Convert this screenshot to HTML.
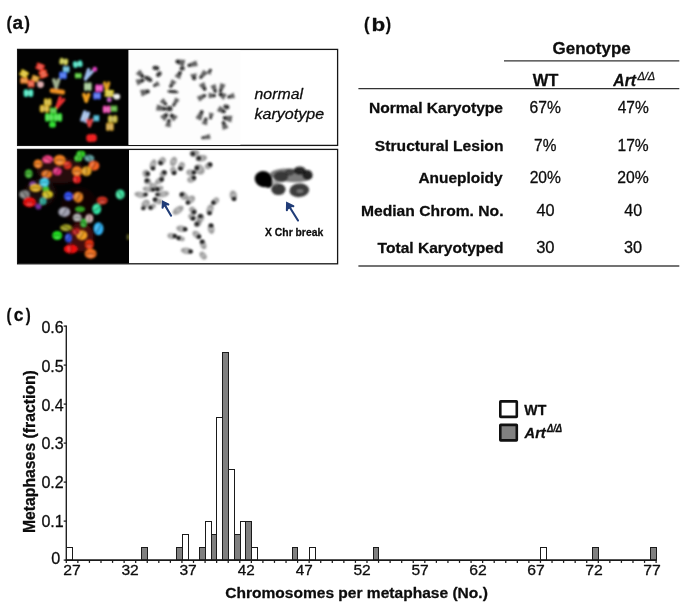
<!DOCTYPE html>
<html><head><meta charset="utf-8"><title>Figure</title>
<style>html,body{margin:0;padding:0;background:#fff;}body{width:685px;height:616px;overflow:hidden;font-family:"Liberation Sans",sans-serif;}svg{display:block;will-change:transform;}text{font-family:"Liberation Sans",sans-serif;fill:#0d0d0d;stroke:#0d0d0d;stroke-width:0.28px;stroke-linejoin:round;}</style>
</head><body>
<svg width="685" height="616" viewBox="0 0 685 616">
<defs>
<filter id="b1" x="-50%" y="-50%" width="200%" height="200%"><feGaussianBlur stdDeviation="0.9"/></filter>
<filter id="b2" x="-50%" y="-50%" width="200%" height="200%"><feGaussianBlur stdDeviation="1.5"/></filter>
<filter id="b3" x="-50%" y="-50%" width="200%" height="200%"><feGaussianBlur stdDeviation="0.9"/></filter>
<clipPath id="cp2"><rect x="18" y="149.8" width="111" height="113.6"/></clipPath>
</defs>
<rect x="0" y="0" width="685" height="616" fill="#fff"/>
<text transform="translate(6.40,28.60) scale(0.8558,1)" font-size="19.0" font-weight="bold">(</text>
<text transform="translate(12.54,28.60) scale(0.9975,1)" font-size="19.0" font-weight="bold">a</text>
<text transform="translate(24.50,28.60) scale(0.8558,1)" font-size="19.0" font-weight="bold">)</text>
<text transform="translate(363.98,29.70) scale(0.8744,1)" font-size="19.0" font-weight="bold">(</text>
<text transform="translate(371.52,30.60) scale(1.1817,1)" font-size="19.0" font-weight="bold">b</text>
<text transform="translate(385.70,29.70) scale(0.8372,1)" font-size="19.0" font-weight="bold">)</text>
<text transform="translate(6.47,320.50) scale(0.7814,1)" font-size="19.0" font-weight="bold">(</text>
<text transform="translate(13.76,321.40) scale(0.9189,1)" font-size="19.0" font-weight="bold">c</text>
<text transform="translate(25.80,320.50) scale(0.7814,1)" font-size="19.0" font-weight="bold">)</text>
<g id="pa">
<rect x="17.6" y="49.4" width="320.0" height="96" fill="#fff" stroke="#151515" stroke-width="1.3"/>
<rect x="17.6" y="149.4" width="320.0" height="114.4" fill="#fff" stroke="#151515" stroke-width="1.3"/>
<rect x="128.4" y="50" width="112" height="95" fill="#fdfdfd"/>
<rect x="18" y="49.8" width="110.4" height="95.2" fill="#020202"/>
<rect x="18" y="149.8" width="111" height="113.6" fill="#020202"/>
<g filter="url(#b1)"><rect x="20.61" y="70.62" width="8.67" height="3.37" rx="1.52" fill="#e8c820" transform="rotate(30 24.95 72.31)"/><rect x="18.92" y="73.54" width="8.67" height="3.37" rx="1.52" fill="#e8c820" transform="rotate(30 23.26 75.23)"/><rect x="22.66" y="78.59" width="6.74" height="3.85" rx="1.73" fill="#f08020" transform="rotate(90 26.03 80.51)"/><rect x="18.80" y="78.59" width="6.74" height="3.85" rx="1.73" fill="#f08020" transform="rotate(90 22.18 80.51)"/><rect x="36.40" y="63.59" width="8.67" height="3.37" rx="1.52" fill="#f03020" transform="rotate(20 40.74 65.28)"/><rect x="35.25" y="66.76" width="8.67" height="3.37" rx="1.52" fill="#f03020" transform="rotate(20 39.58 68.45)"/><rect x="38.38" y="70.35" width="8.67" height="3.85" rx="1.73" fill="#f04020" transform="rotate(-20 42.71 72.28)"/><rect x="39.70" y="73.97" width="8.67" height="3.85" rx="1.73" fill="#f04020" transform="rotate(-20 44.03 75.90)"/><rect x="31.98" y="75.78" width="7.71" height="2.89" rx="1.30" fill="#e8a020" transform="rotate(20 35.84 77.23)"/><rect x="31.00" y="78.50" width="7.71" height="2.89" rx="1.30" fill="#e8a020" transform="rotate(20 34.85 79.94)"/><rect x="29.00" y="82.04" width="7.71" height="3.37" rx="1.52" fill="#f05030" transform="rotate(90 32.85 83.72)"/><rect x="25.63" y="82.04" width="7.71" height="3.37" rx="1.52" fill="#f05030" transform="rotate(90 29.48 83.72)"/><rect x="37.11" y="81.15" width="6.74" height="6.74" rx="3.04" fill="#e0b0b0" transform="rotate(0 40.48 84.53)"/><rect x="26.99" y="90.63" width="7.71" height="4.82" rx="2.17" fill="#40e8c0" transform="rotate(90 30.85 93.04)"/><rect x="22.18" y="90.63" width="7.71" height="4.82" rx="2.17" fill="#40e8c0" transform="rotate(90 26.03 93.04)"/><rect x="62.53" y="59.77" width="6.74" height="4.34" rx="1.95" fill="#c8c840" transform="rotate(100 65.90 61.94)"/><rect x="58.26" y="59.02" width="6.74" height="4.34" rx="1.95" fill="#c8c840" transform="rotate(100 61.63 61.19)"/><rect x="76.74" y="61.30" width="6.74" height="4.82" rx="2.17" fill="#40e0c0" transform="rotate(80 80.11 63.71)"/><rect x="72.00" y="62.14" width="6.74" height="4.82" rx="2.17" fill="#40e0c0" transform="rotate(80 75.37 64.55)"/><rect x="64.49" y="67.58" width="6.74" height="3.37" rx="1.52" fill="#60c0e0" transform="rotate(90 67.86 69.27)"/><rect x="61.12" y="67.58" width="6.74" height="3.37" rx="1.52" fill="#60c0e0" transform="rotate(90 64.49 69.27)"/><rect x="61.04" y="73.45" width="7.71" height="3.85" rx="1.73" fill="#3060f0" transform="rotate(90 64.89 75.37)"/><rect x="57.18" y="73.45" width="7.71" height="3.85" rx="1.73" fill="#3060f0" transform="rotate(90 61.04 75.37)"/><rect x="77.02" y="74.01" width="5.78" height="3.37" rx="1.52" fill="#50d030" transform="rotate(90 79.91 75.69)"/><rect x="73.64" y="74.01" width="5.78" height="3.37" rx="1.52" fill="#50d030" transform="rotate(90 76.54 75.69)"/><line x1="56.22" y1="87.19" x2="58.56" y2="80.06" stroke="#a0b090" stroke-width="3.64" stroke-linecap="round"/><line x1="56.22" y1="87.19" x2="53.88" y2="80.06" stroke="#a0b090" stroke-width="3.64" stroke-linecap="round"/><rect x="49.64" y="89.02" width="15.42" height="4.82" rx="2.17" fill="#f09020" transform="rotate(8 57.34 91.43)"/><line x1="57.07" y1="107.08" x2="63.72" y2="99.72" stroke="#f03030" stroke-width="3.24" stroke-linecap="round"/><line x1="57.07" y1="107.08" x2="60.12" y2="97.64" stroke="#f03030" stroke-width="3.24" stroke-linecap="round"/><rect x="45.78" y="100.26" width="7.71" height="3.85" rx="1.73" fill="#d8b820" transform="rotate(90 49.64 102.19)"/><rect x="41.93" y="100.26" width="7.71" height="3.85" rx="1.73" fill="#d8b820" transform="rotate(90 45.78 102.19)"/><rect x="43.05" y="106.21" width="7.71" height="4.82" rx="2.17" fill="#d8b020" transform="rotate(90 46.91 108.62)"/><rect x="38.23" y="106.21" width="7.71" height="4.82" rx="2.17" fill="#d8b020" transform="rotate(90 42.09 108.62)"/><rect x="51.64" y="109.02" width="6.74" height="3.37" rx="1.52" fill="#40d030" transform="rotate(90 55.02 110.70)"/><rect x="48.27" y="109.02" width="6.74" height="3.37" rx="1.52" fill="#40d030" transform="rotate(90 51.64 110.70)"/><rect x="47.15" y="115.28" width="8.67" height="4.34" rx="1.95" fill="#30e030" transform="rotate(90 51.48 117.45)"/><rect x="42.81" y="115.28" width="8.67" height="4.34" rx="1.95" fill="#30e030" transform="rotate(90 47.15 117.45)"/><rect x="55.66" y="115.28" width="8.67" height="4.34" rx="1.95" fill="#30e030" transform="rotate(90 59.99 117.45)"/><rect x="51.32" y="115.28" width="8.67" height="4.34" rx="1.95" fill="#30e030" transform="rotate(90 55.66 117.45)"/><rect x="49.15" y="121.78" width="6.74" height="5.78" rx="2.60" fill="#30e030" transform="rotate(0 52.53 124.67)"/><line x1="85.50" y1="78.98" x2="92.15" y2="71.62" stroke="#a0c0f0" stroke-width="3.24" stroke-linecap="round"/><line x1="85.50" y1="78.98" x2="88.54" y2="69.54" stroke="#a0c0f0" stroke-width="3.24" stroke-linecap="round"/><rect x="92.35" y="66.86" width="4.82" height="4.82" rx="2.17" fill="#e040c0" transform="rotate(0 94.76 69.27)"/><rect x="85.45" y="84.69" width="8.67" height="3.85" rx="1.73" fill="#a0c890" transform="rotate(90 89.78 86.61)"/><rect x="81.59" y="84.69" width="8.67" height="3.85" rx="1.73" fill="#a0c890" transform="rotate(90 85.93 86.61)"/><rect x="97.17" y="86.29" width="7.71" height="3.85" rx="1.73" fill="#f040c0" transform="rotate(90 101.03 88.22)"/><rect x="93.32" y="86.29" width="7.71" height="3.85" rx="1.73" fill="#f040c0" transform="rotate(90 97.17 88.22)"/><line x1="106.65" y1="90.08" x2="108.73" y2="82.95" stroke="#e0a020" stroke-width="3.24" stroke-linecap="round"/><line x1="106.65" y1="90.08" x2="104.56" y2="82.95" stroke="#e0a020" stroke-width="3.24" stroke-linecap="round"/><rect x="104.40" y="89.99" width="9.64" height="3.37" rx="1.52" fill="#e0d030" transform="rotate(0 109.22 91.67)"/><rect x="104.40" y="93.36" width="9.64" height="3.37" rx="1.52" fill="#e0d030" transform="rotate(0 109.22 95.05)"/><rect x="113.39" y="93.68" width="6.74" height="5.78" rx="2.60" fill="#f0f0f0" transform="rotate(0 116.76 96.57)"/><rect x="95.08" y="93.84" width="7.71" height="3.85" rx="1.73" fill="#4060f0" transform="rotate(90 98.94 95.77)"/><rect x="91.23" y="93.84" width="7.71" height="3.85" rx="1.73" fill="#4060f0" transform="rotate(90 95.08 95.77)"/><line x1="86.25" y1="100.98" x2="88.59" y2="94.56" stroke="#f0a020" stroke-width="3.64" stroke-linecap="round"/><line x1="86.25" y1="100.98" x2="83.91" y2="94.56" stroke="#f0a020" stroke-width="3.64" stroke-linecap="round"/><rect x="106.81" y="97.37" width="4.82" height="4.82" rx="2.17" fill="#c060c0" transform="rotate(0 109.22 99.78)"/><rect x="104.72" y="107.49" width="7.71" height="3.85" rx="1.73" fill="#f040b0" transform="rotate(90 108.57 109.42)"/><rect x="100.86" y="107.49" width="7.71" height="3.85" rx="1.73" fill="#f040b0" transform="rotate(90 104.72 109.42)"/><rect x="112.35" y="106.93" width="6.74" height="3.37" rx="1.52" fill="#50b030" transform="rotate(90 115.72 108.62)"/><rect x="108.97" y="106.93" width="6.74" height="3.37" rx="1.52" fill="#50b030" transform="rotate(90 112.35 108.62)"/><rect x="80.87" y="115.44" width="11.95" height="3.66" rx="1.65" fill="#a0c0f0" transform="rotate(110 86.85 117.27)"/><rect x="77.43" y="114.19" width="11.95" height="3.66" rx="1.65" fill="#a0c0f0" transform="rotate(110 83.41 116.02)"/><rect x="94.44" y="116.81" width="6.74" height="2.89" rx="1.30" fill="#40c0e0" transform="rotate(90 97.81 118.25)"/><rect x="91.55" y="116.81" width="6.74" height="2.89" rx="1.30" fill="#40c0e0" transform="rotate(90 94.92 118.25)"/><line x1="89.46" y1="125.84" x2="91.54" y2="120.14" stroke="#e04040" stroke-width="3.24" stroke-linecap="round"/><line x1="89.46" y1="125.84" x2="87.38" y2="120.14" stroke="#e04040" stroke-width="3.24" stroke-linecap="round"/><rect x="111.30" y="116.65" width="7.71" height="4.82" rx="2.17" fill="#c0b030" transform="rotate(90 115.16 119.05)"/><rect x="106.49" y="116.65" width="7.71" height="4.82" rx="2.17" fill="#c0b030" transform="rotate(90 110.34 119.05)"/><rect x="107.45" y="124.84" width="8.67" height="3.85" rx="1.73" fill="#d0a030" transform="rotate(90 111.79 126.76)"/><rect x="103.59" y="124.84" width="8.67" height="3.85" rx="1.73" fill="#d0a030" transform="rotate(90 107.93 126.76)"/><rect x="86.25" y="134.15" width="10.60" height="7.71" rx="3.47" fill="#f02020" transform="rotate(-5 91.55 138.00)"/><rect x="21.50" y="70.90" width="5.20" height="5.73" rx="2.58" fill="#ffffff" transform="rotate(30 24.10 73.77)" opacity="0.24"/><rect x="22.08" y="77.24" width="4.05" height="6.55" rx="2.95" fill="#ffffff" transform="rotate(90 24.10 80.51)" opacity="0.24"/><rect x="37.56" y="64.00" width="5.20" height="5.73" rx="2.58" fill="#ffffff" transform="rotate(20 40.16 66.86)" opacity="0.24"/><rect x="40.77" y="70.81" width="5.20" height="6.55" rx="2.95" fill="#ffffff" transform="rotate(-20 43.37 74.09)" opacity="0.24"/><rect x="33.03" y="76.13" width="4.63" height="4.91" rx="2.21" fill="#ffffff" transform="rotate(20 35.34 78.59)" opacity="0.24"/><rect x="28.86" y="80.86" width="4.63" height="5.73" rx="2.58" fill="#ffffff" transform="rotate(90 31.17 83.72)" opacity="0.24"/><rect x="26.13" y="88.94" width="4.63" height="8.19" rx="3.69" fill="#ffffff" transform="rotate(90 28.44 93.04)" opacity="0.24"/><rect x="61.74" y="57.88" width="4.05" height="7.37" rx="3.32" fill="#ffffff" transform="rotate(100 63.77 61.56)" opacity="0.24"/><rect x="75.72" y="60.04" width="4.05" height="8.19" rx="3.69" fill="#ffffff" transform="rotate(80 77.74 64.13)" opacity="0.24"/><rect x="64.15" y="66.40" width="4.05" height="5.73" rx="2.58" fill="#ffffff" transform="rotate(90 66.18 69.27)" opacity="0.24"/><rect x="60.65" y="72.10" width="4.63" height="6.55" rx="2.95" fill="#ffffff" transform="rotate(90 62.97 75.37)" opacity="0.24"/><rect x="76.49" y="72.83" width="3.47" height="5.73" rx="2.58" fill="#ffffff" transform="rotate(90 78.22 75.69)" opacity="0.24"/><rect x="45.40" y="98.92" width="4.63" height="6.55" rx="2.95" fill="#ffffff" transform="rotate(90 47.71 102.19)" opacity="0.24"/><rect x="42.19" y="104.52" width="4.63" height="8.19" rx="3.69" fill="#ffffff" transform="rotate(90 44.50 108.62)" opacity="0.24"/><rect x="51.31" y="107.84" width="4.05" height="5.73" rx="2.58" fill="#ffffff" transform="rotate(90 53.33 110.70)" opacity="0.24"/><rect x="46.71" y="113.76" width="5.20" height="7.37" rx="3.32" fill="#ffffff" transform="rotate(90 49.32 117.45)" opacity="0.24"/><rect x="55.22" y="113.76" width="5.20" height="7.37" rx="3.32" fill="#ffffff" transform="rotate(90 57.83 117.45)" opacity="0.24"/><rect x="85.26" y="83.34" width="5.20" height="6.55" rx="2.95" fill="#ffffff" transform="rotate(90 87.86 86.61)" opacity="0.24"/><rect x="96.79" y="84.94" width="4.63" height="6.55" rx="2.95" fill="#ffffff" transform="rotate(90 99.10 88.22)" opacity="0.24"/><rect x="106.33" y="90.49" width="5.78" height="5.73" rx="2.58" fill="#ffffff" transform="rotate(0 109.22 93.36)" opacity="0.24"/><rect x="94.70" y="92.49" width="4.63" height="6.55" rx="2.95" fill="#ffffff" transform="rotate(90 97.01 95.77)" opacity="0.24"/><rect x="104.33" y="106.14" width="4.63" height="6.55" rx="2.95" fill="#ffffff" transform="rotate(90 106.65 109.42)" opacity="0.24"/><rect x="112.01" y="105.75" width="4.05" height="5.73" rx="2.58" fill="#ffffff" transform="rotate(90 114.03 108.62)" opacity="0.24"/><rect x="81.54" y="113.53" width="7.17" height="6.22" rx="2.80" fill="#ffffff" transform="rotate(110 85.13 116.65)" opacity="0.24"/><rect x="94.34" y="115.79" width="4.05" height="4.91" rx="2.21" fill="#ffffff" transform="rotate(90 96.37 118.25)" opacity="0.24"/><rect x="110.44" y="114.96" width="4.63" height="8.19" rx="3.69" fill="#ffffff" transform="rotate(90 112.75 119.05)" opacity="0.24"/><rect x="107.26" y="123.49" width="5.20" height="6.55" rx="2.95" fill="#ffffff" transform="rotate(90 109.86 126.76)" opacity="0.24"/></g><g clip-path="url(#cp2)"><g filter="url(#b2)"><ellipse cx="80.9" cy="237.0" rx="13.0" ry="15.0" fill="#5a0a0a" opacity="0.75"/><ellipse cx="60.6" cy="170.4" rx="24.0" ry="13.0" fill="#451010" opacity="0.55"/><ellipse cx="40.2" cy="192.6" rx="16.0" ry="14.0" fill="#351010" opacity="0.45"/><ellipse cx="79.1" cy="205.5" rx="18.0" ry="18.0" fill="#2a0808" opacity="0.3"/></g><g filter="url(#b1)"><ellipse cx="80.9" cy="154.1" rx="4.5" ry="3.5" fill="#30d020"/><ellipse cx="78.2" cy="158.3" rx="4.0" ry="3.5" fill="#40d030"/><ellipse cx="89.3" cy="158.3" rx="5.0" ry="3.5" fill="#60a0a0"/><ellipse cx="47.6" cy="159.3" rx="5.5" ry="4.0" fill="#f04080"/><ellipse cx="59.7" cy="160.2" rx="6.0" ry="5.5" fill="#f08020"/><ellipse cx="38.0" cy="163.9" rx="4.5" ry="4.5" fill="#f08020"/><ellipse cx="67.6" cy="165.2" rx="4.0" ry="4.0" fill="#e03020"/><ellipse cx="93.9" cy="165.7" rx="5.5" ry="5.0" fill="#f06020"/><ellipse cx="76.9" cy="171.3" rx="5.0" ry="5.0" fill="#f08020"/><ellipse cx="86.5" cy="171.3" rx="5.0" ry="5.0" fill="#e0a020"/><ellipse cx="57.2" cy="171.3" rx="4.5" ry="4.0" fill="#e03080"/><ellipse cx="28.7" cy="173.7" rx="4.0" ry="4.5" fill="#40b030"/><ellipse cx="46.7" cy="174.1" rx="5.5" ry="4.0" fill="#e07020"/><ellipse cx="76.9" cy="179.6" rx="4.0" ry="4.0" fill="#f02020"/><ellipse cx="44.3" cy="182.4" rx="5.0" ry="4.5" fill="#40d0f0"/><ellipse cx="32.8" cy="184.2" rx="3.5" ry="3.0" fill="#8040a0"/><ellipse cx="35.6" cy="187.9" rx="6.0" ry="4.0" fill="#e0b020"/><ellipse cx="45.8" cy="188.9" rx="3.5" ry="3.0" fill="#40c030"/><ellipse cx="24.5" cy="194.4" rx="5.5" ry="4.5" fill="#808080"/><ellipse cx="47.6" cy="194.4" rx="5.5" ry="4.0" fill="#d0c020"/><ellipse cx="29.5" cy="202.2" rx="6.5" ry="5.0" fill="#f01010"/><ellipse cx="43.0" cy="200.9" rx="3.5" ry="4.0" fill="#30b0a0"/><ellipse cx="38.4" cy="206.5" rx="3.0" ry="3.0" fill="#7030a0"/><ellipse cx="68.4" cy="196.3" rx="4.5" ry="4.5" fill="#3050f0"/><ellipse cx="78.2" cy="197.2" rx="5.0" ry="5.5" fill="#e08020"/><ellipse cx="120.2" cy="194.4" rx="4.5" ry="5.0" fill="#40e0a0"/><ellipse cx="102.2" cy="200.4" rx="5.5" ry="4.0" fill="#d03020"/><ellipse cx="96.7" cy="208.9" rx="4.5" ry="5.5" fill="#30e0a0"/><ellipse cx="80.0" cy="209.2" rx="5.0" ry="3.0" fill="#30a020"/><ellipse cx="64.3" cy="212.0" rx="6.0" ry="5.0" fill="#a0a0b0"/><ellipse cx="77.2" cy="217.6" rx="4.5" ry="4.0" fill="#b0b0b0"/><ellipse cx="89.3" cy="218.5" rx="4.0" ry="4.5" fill="#d0b0b0"/><ellipse cx="83.7" cy="223.1" rx="3.5" ry="4.5" fill="#30b030"/><ellipse cx="66.1" cy="227.7" rx="6.0" ry="3.5" fill="#a0a020"/><ellipse cx="98.5" cy="228.7" rx="5.0" ry="6.5" fill="#30b0f0"/><ellipse cx="57.2" cy="235.5" rx="5.0" ry="4.5" fill="#20e020"/><ellipse cx="68.4" cy="237.9" rx="3.5" ry="4.5" fill="#3050e0"/><ellipse cx="81.9" cy="235.2" rx="5.5" ry="5.0" fill="#f0a020"/><ellipse cx="76.3" cy="231.5" rx="4.0" ry="3.5" fill="#c02020"/><ellipse cx="89.3" cy="244.4" rx="4.5" ry="5.0" fill="#e03010"/><ellipse cx="70.8" cy="249.0" rx="7.0" ry="4.5" fill="#f01010"/><ellipse cx="90.6" cy="253.7" rx="6.0" ry="5.0" fill="#f07020"/><ellipse cx="128.1" cy="237.0" rx="1.5" ry="3.0" fill="#606020"/><line x1="80.9" y1="150.3" x2="80.9" y2="157.8" stroke="#000" stroke-width="1.1" opacity="0.42"/><ellipse cx="79.5" cy="154.1" rx="2.1" ry="0.8" fill="#fff" transform="rotate(90 79.5 154.1)" opacity="0.22"/><line x1="78.2" y1="155.0" x2="78.2" y2="161.7" stroke="#000" stroke-width="1.1" opacity="0.42"/><ellipse cx="76.7" cy="158.3" rx="1.8" ry="0.8" fill="#fff" transform="rotate(90 76.7 158.3)" opacity="0.22"/><line x1="87.2" y1="154.7" x2="91.4" y2="161.9" stroke="#000" stroke-width="1.1" opacity="0.42"/><ellipse cx="88.0" cy="159.0" rx="2.3" ry="0.8" fill="#fff" transform="rotate(60 88.0 159.0)" opacity="0.22"/><line x1="43.7" y1="157.0" x2="51.6" y2="161.5" stroke="#000" stroke-width="1.1" opacity="0.42"/><ellipse cx="46.8" cy="160.7" rx="2.5" ry="1.0" fill="#fff" transform="rotate(30 46.8 160.7)" opacity="0.22"/><line x1="54.7" y1="160.2" x2="64.6" y2="160.2" stroke="#000" stroke-width="1.1" opacity="0.42"/><ellipse cx="59.7" cy="162.4" rx="2.7" ry="1.3" fill="#fff" opacity="0.22"/><line x1="34.2" y1="163.9" x2="41.7" y2="163.9" stroke="#000" stroke-width="1.1" opacity="0.42"/><ellipse cx="38.0" cy="165.7" rx="2.1" ry="1.1" fill="#fff" opacity="0.22"/><line x1="70.5" y1="163.5" x2="64.7" y2="166.8" stroke="#000" stroke-width="1.1" opacity="0.42"/><ellipse cx="66.8" cy="163.8" rx="1.8" ry="1.0" fill="#fff" transform="rotate(150 66.8 163.8)" opacity="0.22"/><line x1="96.2" y1="161.8" x2="91.6" y2="169.7" stroke="#000" stroke-width="1.1" opacity="0.42"/><ellipse cx="92.1" cy="164.7" rx="2.5" ry="1.2" fill="#fff" transform="rotate(120 92.1 164.7)" opacity="0.22"/><line x1="72.7" y1="171.3" x2="81.0" y2="171.3" stroke="#000" stroke-width="1.1" opacity="0.42"/><ellipse cx="76.9" cy="173.3" rx="2.3" ry="1.2" fill="#fff" opacity="0.22"/><line x1="86.5" y1="167.1" x2="86.5" y2="175.5" stroke="#000" stroke-width="1.1" opacity="0.42"/><ellipse cx="84.5" cy="171.3" rx="2.3" ry="1.2" fill="#fff" transform="rotate(90 84.5 171.3)" opacity="0.22"/><line x1="59.1" y1="168.0" x2="55.4" y2="174.5" stroke="#000" stroke-width="1.1" opacity="0.42"/><ellipse cx="55.8" cy="170.5" rx="2.1" ry="1.0" fill="#fff" transform="rotate(120 55.8 170.5)" opacity="0.22"/><line x1="25.0" y1="173.7" x2="32.5" y2="173.7" stroke="#000" stroke-width="1.1" opacity="0.42"/><ellipse cx="28.7" cy="175.3" rx="2.1" ry="1.0" fill="#fff" opacity="0.22"/><line x1="49.0" y1="170.1" x2="44.4" y2="178.0" stroke="#000" stroke-width="1.1" opacity="0.42"/><ellipse cx="45.3" cy="173.3" rx="2.5" ry="1.0" fill="#fff" transform="rotate(120 45.3 173.3)" opacity="0.22"/><line x1="76.9" y1="176.3" x2="76.9" y2="183.0" stroke="#000" stroke-width="1.1" opacity="0.42"/><ellipse cx="75.2" cy="179.6" rx="1.8" ry="1.0" fill="#fff" transform="rotate(90 75.2 179.6)" opacity="0.22"/><line x1="40.1" y1="182.4" x2="48.5" y2="182.4" stroke="#000" stroke-width="1.1" opacity="0.42"/><ellipse cx="44.3" cy="184.2" rx="2.3" ry="1.1" fill="#fff" opacity="0.22"/><line x1="30.6" y1="187.9" x2="40.6" y2="187.9" stroke="#000" stroke-width="1.1" opacity="0.42"/><ellipse cx="35.6" cy="189.6" rx="2.7" ry="1.0" fill="#fff" opacity="0.22"/><line x1="22.2" y1="190.5" x2="26.8" y2="198.4" stroke="#000" stroke-width="1.1" opacity="0.42"/><ellipse cx="22.9" cy="195.3" rx="2.5" ry="1.1" fill="#fff" transform="rotate(60 22.9 195.3)" opacity="0.22"/><line x1="45.3" y1="190.5" x2="49.9" y2="198.4" stroke="#000" stroke-width="1.1" opacity="0.42"/><ellipse cx="46.2" cy="195.2" rx="2.5" ry="1.0" fill="#fff" transform="rotate(60 46.2 195.2)" opacity="0.22"/><line x1="24.1" y1="202.2" x2="34.9" y2="202.2" stroke="#000" stroke-width="1.1" opacity="0.42"/><ellipse cx="29.5" cy="204.2" rx="3.0" ry="1.2" fill="#fff" opacity="0.22"/><line x1="43.0" y1="197.6" x2="43.0" y2="204.2" stroke="#000" stroke-width="1.1" opacity="0.42"/><ellipse cx="41.6" cy="200.9" rx="1.8" ry="0.8" fill="#fff" transform="rotate(90 41.6 200.9)" opacity="0.22"/><line x1="64.6" y1="196.3" x2="72.1" y2="196.3" stroke="#000" stroke-width="1.1" opacity="0.42"/><ellipse cx="68.4" cy="198.1" rx="2.1" ry="1.1" fill="#fff" opacity="0.22"/><line x1="80.5" y1="193.2" x2="75.9" y2="201.2" stroke="#000" stroke-width="1.1" opacity="0.42"/><ellipse cx="76.4" cy="196.2" rx="2.5" ry="1.2" fill="#fff" transform="rotate(120 76.4 196.2)" opacity="0.22"/><line x1="118.1" y1="190.8" x2="122.3" y2="198.0" stroke="#000" stroke-width="1.1" opacity="0.42"/><ellipse cx="118.6" cy="195.3" rx="2.3" ry="1.1" fill="#fff" transform="rotate(60 118.6 195.3)" opacity="0.22"/><line x1="97.6" y1="200.4" x2="106.8" y2="200.4" stroke="#000" stroke-width="1.1" opacity="0.42"/><ellipse cx="102.2" cy="202.0" rx="2.5" ry="1.0" fill="#fff" opacity="0.22"/><line x1="100.6" y1="206.6" x2="92.7" y2="211.2" stroke="#000" stroke-width="1.1" opacity="0.42"/><ellipse cx="95.8" cy="207.3" rx="2.5" ry="1.1" fill="#fff" transform="rotate(150 95.8 207.3)" opacity="0.22"/><line x1="66.8" y1="207.7" x2="61.8" y2="216.3" stroke="#000" stroke-width="1.1" opacity="0.42"/><ellipse cx="62.5" cy="211.0" rx="2.7" ry="1.2" fill="#fff" transform="rotate(120 62.5 211.0)" opacity="0.22"/><line x1="73.5" y1="217.6" x2="81.0" y2="217.6" stroke="#000" stroke-width="1.1" opacity="0.42"/><ellipse cx="77.2" cy="219.2" rx="2.1" ry="1.0" fill="#fff" opacity="0.22"/><line x1="89.3" y1="214.7" x2="89.3" y2="222.2" stroke="#000" stroke-width="1.1" opacity="0.42"/><ellipse cx="87.6" cy="218.5" rx="2.1" ry="1.0" fill="#fff" transform="rotate(90 87.6 218.5)" opacity="0.22"/><line x1="80.5" y1="221.2" x2="87.0" y2="225.0" stroke="#000" stroke-width="1.1" opacity="0.42"/><ellipse cx="83.0" cy="224.4" rx="2.1" ry="0.8" fill="#fff" transform="rotate(30 83.0 224.4)" opacity="0.22"/><line x1="61.8" y1="225.2" x2="70.5" y2="230.2" stroke="#000" stroke-width="1.1" opacity="0.42"/><ellipse cx="65.4" cy="229.0" rx="2.7" ry="0.8" fill="#fff" transform="rotate(30 65.4 229.0)" opacity="0.22"/><line x1="101.2" y1="224.0" x2="95.8" y2="233.4" stroke="#000" stroke-width="1.1" opacity="0.42"/><ellipse cx="96.8" cy="227.7" rx="3.0" ry="1.2" fill="#fff" transform="rotate(120 96.8 227.7)" opacity="0.22"/><line x1="53.1" y1="235.5" x2="61.4" y2="235.5" stroke="#000" stroke-width="1.1" opacity="0.42"/><ellipse cx="57.2" cy="237.4" rx="2.3" ry="1.1" fill="#fff" opacity="0.22"/><line x1="70.2" y1="234.7" x2="66.5" y2="241.2" stroke="#000" stroke-width="1.1" opacity="0.42"/><ellipse cx="67.1" cy="237.2" rx="2.1" ry="0.8" fill="#fff" transform="rotate(120 67.1 237.2)" opacity="0.22"/><line x1="84.2" y1="231.2" x2="79.6" y2="239.1" stroke="#000" stroke-width="1.1" opacity="0.42"/><ellipse cx="80.1" cy="234.1" rx="2.5" ry="1.2" fill="#fff" transform="rotate(120 80.1 234.1)" opacity="0.22"/><line x1="74.6" y1="228.6" x2="78.0" y2="234.3" stroke="#000" stroke-width="1.1" opacity="0.42"/><ellipse cx="75.1" cy="232.2" rx="1.8" ry="0.8" fill="#fff" transform="rotate(60 75.1 232.2)" opacity="0.22"/><line x1="85.1" y1="244.4" x2="93.4" y2="244.4" stroke="#000" stroke-width="1.1" opacity="0.42"/><ellipse cx="89.3" cy="246.2" rx="2.3" ry="1.1" fill="#fff" opacity="0.22"/><line x1="70.8" y1="243.2" x2="70.8" y2="254.9" stroke="#000" stroke-width="1.1" opacity="0.42"/><ellipse cx="68.9" cy="249.0" rx="3.2" ry="1.1" fill="#fff" transform="rotate(90 68.9 249.0)" opacity="0.22"/><line x1="85.6" y1="253.7" x2="95.6" y2="253.7" stroke="#000" stroke-width="1.1" opacity="0.42"/><ellipse cx="90.6" cy="255.7" rx="2.7" ry="1.2" fill="#fff" opacity="0.22"/></g></g><g filter="url(#b1)"><polygon points="141.2,77.4 135.7,73.8 140.1,69.4 143.8,74.9" fill="#3c3c3c" opacity="0.8"/><polygon points="143.3,82.1 137.7,85.5 135.5,79.7 142.1,78.7" fill="#3c3c3c" opacity="0.8"/><polygon points="155.1,86.8 160.0,85.2 157.5,81.0 153.7,84.3" fill="#3c3c3c" opacity="0.8"/><polygon points="148.5,93.2 141.8,96.5 140.1,90.0 147.4,89.5" fill="#3c3c3c" opacity="0.8"/><polygon points="177.0,63.6 183.5,66.9 185.3,60.0 178.0,59.6" fill="#3c3c3c" opacity="0.8"/><polygon points="189.4,67.0 197.8,65.9 196.3,60.6 188.5,63.8" fill="#3c3c3c" opacity="0.8"/><polygon points="181.6,73.8 179.9,79.3 174.5,76.2 178.4,72.0" fill="#3c3c3c" opacity="0.8"/><polygon points="192.3,78.8 190.1,74.5 196.7,73.3 196.1,78.1" fill="#3c3c3c" opacity="0.8"/><polygon points="202.1,78.3 207.8,73.3 203.5,69.8 199.6,76.2" fill="#3c3c3c" opacity="0.8"/><polygon points="211.6,70.9 210.4,75.0 206.2,72.6 209.1,69.5" fill="#3c3c3c" opacity="0.8"/><polygon points="172.2,87.1 176.5,82.0 171.7,79.2 169.4,85.5" fill="#3c3c3c" opacity="0.8"/><polygon points="203.2,90.0 198.8,85.1 204.2,82.0 206.3,88.2" fill="#3c3c3c" opacity="0.8"/><polygon points="213.8,91.8 210.4,86.0 215.6,84.1 216.8,90.7" fill="#3c3c3c" opacity="0.8"/><polygon points="222.0,91.5 225.6,84.8 220.4,82.9 218.9,90.4" fill="#3c3c3c" opacity="0.8"/><polygon points="214.4,97.2 208.6,98.3 208.6,92.8 214.4,93.9" fill="#3c3c3c" opacity="0.8"/><polygon points="205.5,96.9 199.6,101.6 196.8,96.8 203.9,94.1" fill="#3c3c3c" opacity="0.8"/><polygon points="219.5,96.0 223.5,100.0 226.9,94.2 221.4,92.6" fill="#3c3c3c" opacity="0.8"/><polygon points="229.2,98.5 235.0,98.1 233.6,92.8 228.3,95.4" fill="#3c3c3c" opacity="0.8"/><polygon points="164.5,105.1 159.6,101.9 163.5,98.0 166.7,102.9" fill="#3c3c3c" opacity="0.8"/><polygon points="174.9,105.9 179.6,99.8 175.4,97.4 172.4,104.5" fill="#3c3c3c" opacity="0.8"/><polygon points="164.3,110.7 156.0,110.5 157.1,104.4 165.0,107.1" fill="#3c3c3c" opacity="0.8"/><polygon points="167.6,116.4 164.8,121.2 160.0,116.5 164.9,113.6" fill="#3c3c3c" opacity="0.8"/><polygon points="170.3,116.9 173.6,121.5 177.9,116.4 172.8,114.0" fill="#3c3c3c" opacity="0.8"/><polygon points="170.6,120.5 170.6,127.3 165.1,126.3 167.4,120.0" fill="#3c3c3c" opacity="0.8"/><polygon points="223.1,113.2 216.8,111.1 219.9,105.7 224.9,110.0" fill="#3c3c3c" opacity="0.8"/><polygon points="203.4,112.7 201.1,120.7 195.5,118.1 200.1,111.2" fill="#3c3c3c" opacity="0.8"/><polygon points="212.0,118.2 213.9,113.5 209.1,112.6 209.2,117.7" fill="#3c3c3c" opacity="0.8"/><polygon points="207.4,119.4 207.1,125.2 201.7,123.8 204.3,118.6" fill="#3c3c3c" opacity="0.8"/><polygon points="224.3,119.8 231.2,122.4 232.4,115.8 225.0,116.0" fill="#3c3c3c" opacity="0.8"/><polygon points="221.8,123.4 222.8,130.0 228.6,127.8 225.2,122.2" fill="#3c3c3c" opacity="0.8"/><polygon points="202.9,139.2 210.6,138.9 209.7,134.1 202.4,136.4" fill="#3c3c3c" opacity="0.8"/><circle cx="142.5" cy="76.2" r="1.8" fill="#0c0c0c" opacity="0.85"/><circle cx="142.7" cy="80.4" r="1.8" fill="#0c0c0c" opacity="0.85"/><ellipse cx="148.4" cy="78.9" rx="4.4" ry="2.2" fill="#151515" transform="rotate(30 148.4 78.9)" opacity="0.88"/><ellipse cx="155.9" cy="68.0" rx="3.5" ry="2.2" fill="#151515" transform="rotate(10 155.9 68.0)" opacity="0.88"/><ellipse cx="158.9" cy="74.2" rx="3.1" ry="2.2" fill="#151515" transform="rotate(-45 158.9 74.2)" opacity="0.88"/><circle cx="154.4" cy="85.6" r="1.4" fill="#0c0c0c" opacity="0.85"/><circle cx="147.9" cy="91.4" r="1.9" fill="#0c0c0c" opacity="0.85"/><circle cx="177.5" cy="61.6" r="2.1" fill="#0c0c0c" opacity="0.85"/><circle cx="189.0" cy="65.4" r="1.6" fill="#0c0c0c" opacity="0.85"/><ellipse cx="182.2" cy="68.4" rx="2.6" ry="2.2" fill="#151515" opacity="0.88"/><circle cx="180.0" cy="72.9" r="1.8" fill="#0c0c0c" opacity="0.85"/><circle cx="194.2" cy="78.4" r="1.9" fill="#0c0c0c" opacity="0.85"/><circle cx="200.8" cy="77.3" r="1.6" fill="#0c0c0c" opacity="0.85"/><circle cx="210.4" cy="70.2" r="1.4" fill="#0c0c0c" opacity="0.85"/><circle cx="170.8" cy="86.3" r="1.6" fill="#0c0c0c" opacity="0.85"/><ellipse cx="172.9" cy="91.7" rx="5.7" ry="1.6" fill="#151515" transform="rotate(5 172.9 91.7)" opacity="0.88"/><circle cx="204.7" cy="89.1" r="1.8" fill="#0c0c0c" opacity="0.85"/><circle cx="215.3" cy="91.2" r="1.6" fill="#0c0c0c" opacity="0.85"/><circle cx="220.5" cy="90.9" r="1.6" fill="#0c0c0c" opacity="0.85"/><circle cx="214.4" cy="95.6" r="1.6" fill="#0c0c0c" opacity="0.85"/><circle cx="204.7" cy="95.5" r="1.6" fill="#0c0c0c" opacity="0.85"/><circle cx="220.5" cy="94.3" r="1.9" fill="#0c0c0c" opacity="0.85"/><circle cx="228.8" cy="97.0" r="1.6" fill="#0c0c0c" opacity="0.85"/><circle cx="165.6" cy="104.0" r="1.6" fill="#0c0c0c" opacity="0.85"/><circle cx="173.7" cy="105.2" r="1.4" fill="#0c0c0c" opacity="0.85"/><circle cx="164.7" cy="108.9" r="1.8" fill="#0c0c0c" opacity="0.85"/><ellipse cx="169.4" cy="108.7" rx="3.1" ry="2.6" fill="#151515" opacity="0.88"/><circle cx="166.3" cy="115.0" r="1.9" fill="#0c0c0c" opacity="0.85"/><circle cx="171.6" cy="115.5" r="1.9" fill="#0c0c0c" opacity="0.85"/><circle cx="169.0" cy="120.3" r="1.6" fill="#0c0c0c" opacity="0.85"/><ellipse cx="226.4" cy="106.9" rx="3.1" ry="2.2" fill="#151515" transform="rotate(20 226.4 106.9)" opacity="0.88"/><circle cx="224.0" cy="111.6" r="1.8" fill="#0c0c0c" opacity="0.85"/><circle cx="201.8" cy="111.9" r="1.8" fill="#0c0c0c" opacity="0.85"/><circle cx="210.6" cy="118.0" r="1.4" fill="#0c0c0c" opacity="0.85"/><circle cx="205.9" cy="119.0" r="1.6" fill="#0c0c0c" opacity="0.85"/><circle cx="224.6" cy="117.9" r="1.9" fill="#0c0c0c" opacity="0.85"/><circle cx="223.5" cy="122.8" r="1.8" fill="#0c0c0c" opacity="0.85"/><circle cx="202.6" cy="137.8" r="1.4" fill="#0c0c0c" opacity="0.85"/></g><g filter="url(#b3)"><ellipse cx="153.1" cy="164.4" rx="5.3" ry="3.1" fill="#6a6a6a" transform="rotate(-70 153.1 164.4)" opacity="0.66"/><ellipse cx="161.9" cy="161.1" rx="4.4" ry="3.3" fill="#6a6a6a" transform="rotate(-50 161.9 161.1)" opacity="0.66"/><ellipse cx="173.5" cy="161.5" rx="4.9" ry="3.3" fill="#6a6a6a" transform="rotate(-70 173.5 161.5)" opacity="0.66"/><ellipse cx="181.5" cy="166.3" rx="4.4" ry="3.1" fill="#6a6a6a" transform="rotate(-70 181.5 166.3)" opacity="0.66"/><ellipse cx="173.5" cy="170.7" rx="3.9" ry="3.1" fill="#6a6a6a" transform="rotate(70 173.5 170.7)" opacity="0.66"/><ellipse cx="194.4" cy="153.3" rx="4.9" ry="3.6" fill="#6a6a6a" transform="rotate(-10 194.4 153.3)" opacity="0.66"/><ellipse cx="201.3" cy="158.3" rx="5.8" ry="3.3" fill="#6a6a6a" transform="rotate(-10 201.3 158.3)" opacity="0.66"/><ellipse cx="208.7" cy="165.7" rx="3.9" ry="3.1" fill="#6a6a6a" transform="rotate(-30 208.7 165.7)" opacity="0.66"/><ellipse cx="199.4" cy="169.4" rx="5.8" ry="4.6" fill="#6a6a6a" transform="rotate(45 199.4 169.4)" opacity="0.66"/><ellipse cx="190.7" cy="172.6" rx="4.4" ry="3.1" fill="#6a6a6a" transform="rotate(10 190.7 172.6)" opacity="0.66"/><ellipse cx="191.5" cy="179.3" rx="4.4" ry="3.1" fill="#6a6a6a" transform="rotate(-20 191.5 179.3)" opacity="0.66"/><ellipse cx="146.3" cy="173.7" rx="3.9" ry="3.6" fill="#6a6a6a" transform="rotate(60 146.3 173.7)" opacity="0.66"/><ellipse cx="163.3" cy="173.7" rx="3.9" ry="3.1" fill="#6a6a6a" transform="rotate(-50 163.3 173.7)" opacity="0.66"/><ellipse cx="159.6" cy="180.6" rx="5.3" ry="2.9" fill="#6a6a6a" transform="rotate(-35 159.6 180.6)" opacity="0.66"/><ellipse cx="147.6" cy="181.5" rx="3.4" ry="2.9" fill="#6a6a6a" opacity="0.66"/><ellipse cx="153.1" cy="186.1" rx="3.9" ry="2.9" fill="#6a6a6a" transform="rotate(30 153.1 186.1)" opacity="0.66"/><ellipse cx="147.6" cy="189.3" rx="4.9" ry="2.5" fill="#6a6a6a" transform="rotate(10 147.6 189.3)" opacity="0.66"/><ellipse cx="159.6" cy="188.5" rx="3.9" ry="2.5" fill="#6a6a6a" transform="rotate(-20 159.6 188.5)" opacity="0.66"/><ellipse cx="140.2" cy="194.8" rx="5.8" ry="2.9" fill="#6a6a6a" transform="rotate(10 140.2 194.8)" opacity="0.66"/><ellipse cx="163.3" cy="194.1" rx="5.8" ry="2.9" fill="#6a6a6a" transform="rotate(-10 163.3 194.1)" opacity="0.66"/><ellipse cx="157.8" cy="200.9" rx="4.9" ry="2.9" fill="#6a6a6a" transform="rotate(20 157.8 200.9)" opacity="0.66"/><ellipse cx="145.7" cy="203.7" rx="4.4" ry="3.6" fill="#6a6a6a" transform="rotate(-50 145.7 203.7)" opacity="0.66"/><ellipse cx="152.6" cy="206.5" rx="3.4" ry="2.5" fill="#6a6a6a" transform="rotate(-30 152.6 206.5)" opacity="0.66"/><ellipse cx="183.7" cy="195.9" rx="4.4" ry="3.6" fill="#6a6a6a" transform="rotate(40 183.7 195.9)" opacity="0.66"/><ellipse cx="190.7" cy="199.6" rx="4.9" ry="3.6" fill="#6a6a6a" transform="rotate(-40 190.7 199.6)" opacity="0.66"/><ellipse cx="178.1" cy="210.2" rx="6.3" ry="3.3" fill="#6a6a6a" transform="rotate(-35 178.1 210.2)" opacity="0.66"/><ellipse cx="233.3" cy="195.4" rx="4.9" ry="3.6" fill="#6a6a6a" transform="rotate(80 233.3 195.4)" opacity="0.66"/><ellipse cx="215.6" cy="200.9" rx="3.9" ry="2.9" fill="#6a6a6a" transform="rotate(-45 215.6 200.9)" opacity="0.66"/><ellipse cx="210.0" cy="209.3" rx="5.3" ry="3.3" fill="#6a6a6a" transform="rotate(-70 210.0 209.3)" opacity="0.66"/><ellipse cx="193.0" cy="210.7" rx="4.4" ry="3.1" fill="#6a6a6a" transform="rotate(50 193.0 210.7)" opacity="0.66"/><ellipse cx="192.0" cy="217.0" rx="3.9" ry="2.9" fill="#6a6a6a" transform="rotate(30 192.0 217.0)" opacity="0.66"/><ellipse cx="200.4" cy="218.1" rx="4.4" ry="3.6" fill="#6a6a6a" transform="rotate(-70 200.4 218.1)" opacity="0.66"/><ellipse cx="197.6" cy="223.7" rx="3.9" ry="3.1" fill="#6a6a6a" transform="rotate(-40 197.6 223.7)" opacity="0.66"/><ellipse cx="211.1" cy="228.7" rx="5.3" ry="3.3" fill="#6a6a6a" transform="rotate(80 211.1 228.7)" opacity="0.66"/><ellipse cx="181.5" cy="228.7" rx="5.3" ry="3.1" fill="#6a6a6a" transform="rotate(10 181.5 228.7)" opacity="0.66"/><ellipse cx="196.7" cy="234.8" rx="4.9" ry="3.3" fill="#6a6a6a" transform="rotate(40 196.7 234.8)" opacity="0.66"/><ellipse cx="171.7" cy="236.1" rx="4.4" ry="2.9" fill="#6a6a6a" transform="rotate(10 171.7 236.1)" opacity="0.66"/><ellipse cx="180.9" cy="238.5" rx="3.9" ry="2.5" fill="#6a6a6a" transform="rotate(20 180.9 238.5)" opacity="0.66"/><ellipse cx="203.1" cy="244.4" rx="4.9" ry="2.9" fill="#6a6a6a" transform="rotate(70 203.1 244.4)" opacity="0.66"/><ellipse cx="186.5" cy="250.9" rx="5.8" ry="3.1" fill="#6a6a6a" transform="rotate(10 186.5 250.9)" opacity="0.66"/><ellipse cx="203.1" cy="255.6" rx="4.4" ry="2.9" fill="#6a6a6a" transform="rotate(50 203.1 255.6)" opacity="0.66"/><ellipse cx="153.1" cy="164.4" rx="1.8" ry="1.9" fill="#fff" transform="rotate(-70 153.1 164.4)" opacity="0.28"/><ellipse cx="161.9" cy="161.1" rx="1.5" ry="2.1" fill="#fff" transform="rotate(-50 161.9 161.1)" opacity="0.28"/><ellipse cx="173.5" cy="161.5" rx="1.6" ry="2.1" fill="#fff" transform="rotate(-70 173.5 161.5)" opacity="0.28"/><ellipse cx="181.5" cy="166.3" rx="1.5" ry="1.9" fill="#fff" transform="rotate(-70 181.5 166.3)" opacity="0.28"/><ellipse cx="173.5" cy="170.7" rx="1.3" ry="1.9" fill="#fff" transform="rotate(70 173.5 170.7)" opacity="0.28"/><ellipse cx="194.4" cy="153.3" rx="1.6" ry="2.3" fill="#fff" transform="rotate(-10 194.4 153.3)" opacity="0.28"/><ellipse cx="201.3" cy="158.3" rx="1.9" ry="2.1" fill="#fff" transform="rotate(-10 201.3 158.3)" opacity="0.28"/><ellipse cx="208.7" cy="165.7" rx="1.3" ry="1.9" fill="#fff" transform="rotate(-30 208.7 165.7)" opacity="0.28"/><ellipse cx="199.4" cy="169.4" rx="1.9" ry="2.9" fill="#fff" transform="rotate(45 199.4 169.4)" opacity="0.28"/><ellipse cx="190.7" cy="172.6" rx="1.5" ry="1.9" fill="#fff" transform="rotate(10 190.7 172.6)" opacity="0.28"/><ellipse cx="191.5" cy="179.3" rx="1.5" ry="1.9" fill="#fff" transform="rotate(-20 191.5 179.3)" opacity="0.28"/><ellipse cx="146.3" cy="173.7" rx="1.3" ry="2.3" fill="#fff" transform="rotate(60 146.3 173.7)" opacity="0.28"/><ellipse cx="163.3" cy="173.7" rx="1.3" ry="1.9" fill="#fff" transform="rotate(-50 163.3 173.7)" opacity="0.28"/><ellipse cx="159.6" cy="180.6" rx="1.8" ry="1.8" fill="#fff" transform="rotate(-35 159.6 180.6)" opacity="0.28"/><ellipse cx="147.6" cy="181.5" rx="1.1" ry="1.8" fill="#fff" opacity="0.28"/><ellipse cx="153.1" cy="186.1" rx="1.3" ry="1.8" fill="#fff" transform="rotate(30 153.1 186.1)" opacity="0.28"/><ellipse cx="147.6" cy="189.3" rx="1.6" ry="1.6" fill="#fff" transform="rotate(10 147.6 189.3)" opacity="0.28"/><ellipse cx="159.6" cy="188.5" rx="1.3" ry="1.6" fill="#fff" transform="rotate(-20 159.6 188.5)" opacity="0.28"/><ellipse cx="140.2" cy="194.8" rx="1.9" ry="1.8" fill="#fff" transform="rotate(10 140.2 194.8)" opacity="0.28"/><ellipse cx="163.3" cy="194.1" rx="1.9" ry="1.8" fill="#fff" transform="rotate(-10 163.3 194.1)" opacity="0.28"/><ellipse cx="157.8" cy="200.9" rx="1.6" ry="1.8" fill="#fff" transform="rotate(20 157.8 200.9)" opacity="0.28"/><ellipse cx="145.7" cy="203.7" rx="1.5" ry="2.3" fill="#fff" transform="rotate(-50 145.7 203.7)" opacity="0.28"/><ellipse cx="152.6" cy="206.5" rx="1.1" ry="1.6" fill="#fff" transform="rotate(-30 152.6 206.5)" opacity="0.28"/><ellipse cx="183.7" cy="195.9" rx="1.5" ry="2.3" fill="#fff" transform="rotate(40 183.7 195.9)" opacity="0.28"/><ellipse cx="190.7" cy="199.6" rx="1.6" ry="2.3" fill="#fff" transform="rotate(-40 190.7 199.6)" opacity="0.28"/><ellipse cx="178.1" cy="210.2" rx="2.1" ry="2.1" fill="#fff" transform="rotate(-35 178.1 210.2)" opacity="0.28"/><ellipse cx="233.3" cy="195.4" rx="1.6" ry="2.3" fill="#fff" transform="rotate(80 233.3 195.4)" opacity="0.28"/><ellipse cx="215.6" cy="200.9" rx="1.3" ry="1.8" fill="#fff" transform="rotate(-45 215.6 200.9)" opacity="0.28"/><ellipse cx="210.0" cy="209.3" rx="1.8" ry="2.1" fill="#fff" transform="rotate(-70 210.0 209.3)" opacity="0.28"/><ellipse cx="193.0" cy="210.7" rx="1.5" ry="1.9" fill="#fff" transform="rotate(50 193.0 210.7)" opacity="0.28"/><ellipse cx="192.0" cy="217.0" rx="1.3" ry="1.8" fill="#fff" transform="rotate(30 192.0 217.0)" opacity="0.28"/><ellipse cx="200.4" cy="218.1" rx="1.5" ry="2.3" fill="#fff" transform="rotate(-70 200.4 218.1)" opacity="0.28"/><ellipse cx="197.6" cy="223.7" rx="1.3" ry="1.9" fill="#fff" transform="rotate(-40 197.6 223.7)" opacity="0.28"/><ellipse cx="211.1" cy="228.7" rx="1.8" ry="2.1" fill="#fff" transform="rotate(80 211.1 228.7)" opacity="0.28"/><ellipse cx="181.5" cy="228.7" rx="1.8" ry="1.9" fill="#fff" transform="rotate(10 181.5 228.7)" opacity="0.28"/><ellipse cx="196.7" cy="234.8" rx="1.6" ry="2.1" fill="#fff" transform="rotate(40 196.7 234.8)" opacity="0.28"/><ellipse cx="171.7" cy="236.1" rx="1.5" ry="1.8" fill="#fff" transform="rotate(10 171.7 236.1)" opacity="0.28"/><ellipse cx="180.9" cy="238.5" rx="1.3" ry="1.6" fill="#fff" transform="rotate(20 180.9 238.5)" opacity="0.28"/><ellipse cx="203.1" cy="244.4" rx="1.6" ry="1.8" fill="#fff" transform="rotate(70 203.1 244.4)" opacity="0.28"/><ellipse cx="186.5" cy="250.9" rx="1.9" ry="1.9" fill="#fff" transform="rotate(10 186.5 250.9)" opacity="0.28"/><ellipse cx="203.1" cy="255.6" rx="1.5" ry="1.8" fill="#fff" transform="rotate(50 203.1 255.6)" opacity="0.28"/></g><g filter="url(#b1)"><ellipse cx="153.1" cy="168.5" rx="2.2" ry="2.0" fill="#000" opacity="0.88"/><ellipse cx="160.6" cy="163.0" rx="2.2" ry="2.0" fill="#000" opacity="0.88"/><ellipse cx="180.4" cy="168.5" rx="2.2" ry="2.0" fill="#000" opacity="0.88"/><ellipse cx="174.1" cy="173.1" rx="2.2" ry="2.0" fill="#000" opacity="0.88"/><ellipse cx="193.0" cy="153.7" rx="2.2" ry="2.0" fill="#000" opacity="0.88"/><ellipse cx="198.9" cy="158.3" rx="2.2" ry="2.0" fill="#000" opacity="0.88"/><ellipse cx="210.0" cy="164.4" rx="2.2" ry="2.0" fill="#000" opacity="0.88"/><ellipse cx="197.0" cy="168.1" rx="2.2" ry="2.0" fill="#000" opacity="0.88"/><ellipse cx="193.9" cy="172.6" rx="2.2" ry="2.0" fill="#000" opacity="0.88"/><ellipse cx="193.9" cy="177.8" rx="2.2" ry="2.0" fill="#000" opacity="0.88"/><ellipse cx="147.6" cy="173.7" rx="2.2" ry="2.0" fill="#000" opacity="0.88"/><ellipse cx="164.3" cy="172.6" rx="2.2" ry="2.0" fill="#000" opacity="0.88"/><ellipse cx="161.5" cy="179.6" rx="2.2" ry="2.0" fill="#000" opacity="0.88"/><ellipse cx="147.0" cy="180.6" rx="2.2" ry="2.0" fill="#000" opacity="0.88"/><ellipse cx="153.1" cy="189.8" rx="2.2" ry="2.0" fill="#000" opacity="0.88"/><ellipse cx="157.4" cy="189.3" rx="2.2" ry="2.0" fill="#000" opacity="0.88"/><ellipse cx="145.7" cy="194.4" rx="2.2" ry="2.0" fill="#000" opacity="0.88"/><ellipse cx="157.4" cy="194.4" rx="2.2" ry="2.0" fill="#000" opacity="0.88"/><ellipse cx="155.0" cy="199.6" rx="2.2" ry="2.0" fill="#000" opacity="0.88"/><ellipse cx="143.3" cy="208.3" rx="2.2" ry="2.0" fill="#000" opacity="0.88"/><ellipse cx="150.4" cy="207.8" rx="2.2" ry="2.0" fill="#000" opacity="0.88"/><ellipse cx="181.9" cy="194.4" rx="2.2" ry="2.0" fill="#000" opacity="0.88"/><ellipse cx="187.8" cy="202.8" rx="2.2" ry="2.0" fill="#000" opacity="0.88"/><ellipse cx="234.1" cy="199.1" rx="2.2" ry="2.0" fill="#000" opacity="0.88"/><ellipse cx="213.3" cy="202.8" rx="2.2" ry="2.0" fill="#000" opacity="0.88"/><ellipse cx="209.6" cy="213.3" rx="2.2" ry="2.0" fill="#000" opacity="0.88"/><ellipse cx="193.9" cy="212.0" rx="2.2" ry="2.0" fill="#000" opacity="0.88"/><ellipse cx="193.0" cy="218.5" rx="2.2" ry="2.0" fill="#000" opacity="0.88"/><ellipse cx="200.4" cy="216.3" rx="2.2" ry="2.0" fill="#000" opacity="0.88"/><ellipse cx="197.0" cy="224.1" rx="2.2" ry="2.0" fill="#000" opacity="0.88"/><ellipse cx="211.1" cy="225.6" rx="2.2" ry="2.0" fill="#000" opacity="0.88"/><ellipse cx="185.2" cy="229.3" rx="2.2" ry="2.0" fill="#000" opacity="0.88"/><ellipse cx="198.9" cy="236.7" rx="2.2" ry="2.0" fill="#000" opacity="0.88"/><ellipse cx="174.8" cy="236.1" rx="2.2" ry="2.0" fill="#000" opacity="0.88"/><ellipse cx="178.5" cy="238.0" rx="2.2" ry="2.0" fill="#000" opacity="0.88"/><ellipse cx="202.2" cy="241.7" rx="2.2" ry="2.0" fill="#000" opacity="0.88"/><ellipse cx="190.7" cy="251.5" rx="2.2" ry="2.0" fill="#000" opacity="0.88"/></g><g stroke="#213d78" stroke-width="2.1" fill="none" stroke-linecap="round"><path d="M171.1 215.7 L163.4 202.6"/><path d="M162.6 207.8 L163 201.9 L168.3 204.5" fill="#213d78"/></g><g filter="url(#b1)"><ellipse cx="291.1" cy="175.3" rx="21.3" ry="6.8" fill="#5a5a5a" transform="rotate(3 291.1 175.3)" opacity="0.8"/><ellipse cx="280.9" cy="176.7" rx="7.2" ry="5.5" fill="#2e2e2e" opacity="0.85"/><ellipse cx="289.4" cy="172.3" rx="4.8" ry="3.4" fill="#2a2a2a" opacity="0.7"/><ellipse cx="299.7" cy="170.6" rx="6.1" ry="4.1" fill="#151515" opacity="0.9"/><ellipse cx="307.5" cy="175.0" rx="5.1" ry="5.1" fill="#151515" opacity="0.9"/><ellipse cx="278.4" cy="189.3" rx="7.2" ry="5.8" fill="#222" opacity="0.9"/><ellipse cx="299.3" cy="190.3" rx="9.9" ry="6.8" fill="#2a2a2a" transform="rotate(-5 299.3 190.3)" opacity="0.92"/><ellipse cx="300.0" cy="191.0" rx="3.1" ry="1.5" fill="#999" opacity="0.7"/><ellipse cx="274.1" cy="183.0" rx="4.3" ry="3.4" fill="#666" opacity="0.5"/></g><g filter="url(#b1)"><ellipse cx="263.5" cy="179.1" rx="8.9" ry="8.0" fill="#000" transform="rotate(20 263.5 179.1)"/><ellipse cx="267.3" cy="183.5" rx="5.1" ry="4.1" fill="#000" transform="rotate(30 267.3 183.5)"/></g><g stroke="#213d78" stroke-width="2.1" fill="none" stroke-linecap="round"><path d="M298 220.5 L288 204.5"/><path d="M286.9 210.2 L287.1 203.2 L293.3 206.2" fill="#213d78"/></g>
<text transform="translate(254.54,98.60) scale(1.0232,1)" font-size="15.5" font-style="italic">normal</text>
<text transform="translate(254.54,118.90) scale(1.0350,1)" font-size="15.5" font-style="italic">karyotype</text>
<text transform="translate(265.08,235.50) scale(0.9412,1)" font-size="11" font-weight="bold">X Chr break</text>
</g>
<g id="pb">
<text transform="translate(552.54,54.00) scale(1.0535,1)" font-size="16.1" font-weight="bold">Genotype</text>
<line x1="504" y1="60.9" x2="679.3" y2="60.9" stroke="#333" stroke-width="1.4"/>
<text transform="translate(532.70,86.00) scale(1.0343,1)" font-size="16" font-weight="bold">WT</text>
<text transform="translate(613.31,86.00) scale(0.9833,1)" font-size="16" font-weight="bold" font-style="italic">Art</text>
<text transform="translate(637.40,80.30) scale(1.0525,1)" font-size="10.5" font-style="italic">Δ/Δ</text>
<line x1="358.4" y1="88.6" x2="679.3" y2="88.6" stroke="#333" stroke-width="1.4"/>
<text transform="translate(368.89,113.00) scale(1.0053,1)" font-size="15.5" font-weight="bold">Normal Karyotype</text>
<text transform="translate(374.86,150.70) scale(1.0098,1)" font-size="15.5" font-weight="bold">Structural Lesion</text>
<text transform="translate(418.43,183.00) scale(0.9984,1)" font-size="15.5" font-weight="bold">Anueploidy</text>
<text transform="translate(360.99,216.00) scale(1.0101,1)" font-size="15.5" font-weight="bold">Median Chrom. No.</text>
<text transform="translate(377.61,253.10) scale(1.0044,1)" font-size="15.5" font-weight="bold">Total Karyotyped</text>
<text transform="translate(529.59,113.20) scale(0.9917,1)" font-size="15.8">67%</text>
<text transform="translate(617.63,113.20) scale(0.9841,1)" font-size="15.8">47%</text>
<text transform="translate(534.11,150.70) scale(0.9767,1)" font-size="15.8">7%</text>
<text transform="translate(617.53,150.70) scale(0.9874,1)" font-size="15.8">17%</text>
<text transform="translate(529.66,183.20) scale(0.9897,1)" font-size="15.8">20%</text>
<text transform="translate(617.25,183.20) scale(0.9963,1)" font-size="15.8">20%</text>
<text transform="translate(536.41,215.90) scale(1.0346,1)" font-size="15.8">40</text>
<text transform="translate(624.32,215.90) scale(1.0165,1)" font-size="15.8">40</text>
<text transform="translate(536.14,252.80) scale(1.0504,1)" font-size="15.8">30</text>
<text transform="translate(624.05,252.80) scale(1.0321,1)" font-size="15.8">30</text>
<line x1="358.4" y1="266" x2="679.3" y2="266" stroke="#444" stroke-width="1.4"/>
</g>
<g id="pc">
<rect x="66.5" y="547.5" width="6.0" height="12.60" fill="#fff" stroke="#1a1a1a" stroke-width="1"/>
<rect x="182.5" y="534.5" width="6.0" height="25.60" fill="#fff" stroke="#1a1a1a" stroke-width="1"/>
<rect x="205.5" y="521.5" width="6.0" height="38.60" fill="#fff" stroke="#1a1a1a" stroke-width="1"/>
<rect x="216.5" y="417.5" width="6.0" height="142.60" fill="#fff" stroke="#1a1a1a" stroke-width="1"/>
<rect x="228.5" y="469.5" width="6.0" height="90.60" fill="#fff" stroke="#1a1a1a" stroke-width="1"/>
<rect x="240.5" y="521.5" width="5.0" height="38.60" fill="#fff" stroke="#1a1a1a" stroke-width="1"/>
<rect x="251.5" y="547.5" width="6.0" height="12.60" fill="#fff" stroke="#1a1a1a" stroke-width="1"/>
<rect x="309.5" y="547.5" width="6.0" height="12.60" fill="#fff" stroke="#1a1a1a" stroke-width="1"/>
<rect x="540.5" y="547.5" width="6.0" height="12.60" fill="#fff" stroke="#1a1a1a" stroke-width="1"/>
<rect x="141.5" y="547.5" width="6.0" height="12.60" fill="#808080" stroke="#1a1a1a" stroke-width="1"/>
<rect x="176.5" y="547.5" width="6.0" height="12.60" fill="#808080" stroke="#1a1a1a" stroke-width="1"/>
<rect x="199.5" y="547.5" width="6.0" height="12.60" fill="#808080" stroke="#1a1a1a" stroke-width="1"/>
<rect x="211.5" y="534.5" width="5.0" height="25.60" fill="#808080" stroke="#1a1a1a" stroke-width="1"/>
<rect x="222.5" y="352.5" width="6.0" height="207.60" fill="#808080" stroke="#1a1a1a" stroke-width="1"/>
<rect x="234.5" y="534.5" width="6.0" height="25.60" fill="#808080" stroke="#1a1a1a" stroke-width="1"/>
<rect x="245.5" y="521.5" width="6.0" height="38.60" fill="#808080" stroke="#1a1a1a" stroke-width="1"/>
<rect x="292.5" y="547.5" width="5.0" height="12.60" fill="#808080" stroke="#1a1a1a" stroke-width="1"/>
<rect x="373.5" y="547.5" width="5.0" height="12.60" fill="#808080" stroke="#1a1a1a" stroke-width="1"/>
<rect x="592.5" y="547.5" width="6.0" height="12.60" fill="#808080" stroke="#1a1a1a" stroke-width="1"/>
<rect x="650.5" y="547.5" width="6.0" height="12.60" fill="#808080" stroke="#1a1a1a" stroke-width="1"/>
<line x1="66.3" y1="325.6" x2="66.3" y2="560.8000000000001" stroke="#222" stroke-width="1.4"/>
<line x1="65.6" y1="560.1" x2="656.6" y2="560.1" stroke="#1a1a1a" stroke-width="1.6"/>
<line x1="63.699999999999996" y1="560.1" x2="66.3" y2="560.1" stroke="#1a1a1a" stroke-width="1.25"/>
<text transform="translate(51.17,563.60) scale(1.0146,1)" font-size="16">0</text>
<line x1="63.699999999999996" y1="521.1" x2="66.3" y2="521.1" stroke="#1a1a1a" stroke-width="1.25"/>
<text transform="translate(63.68,526.70) scale(1.0030,1)" font-size="16" text-anchor="end">0.1</text>
<line x1="63.699999999999996" y1="482.1" x2="66.3" y2="482.1" stroke="#1a1a1a" stroke-width="1.25"/>
<text transform="translate(63.68,488.05) scale(1.0030,1)" font-size="16" text-anchor="end">0.2</text>
<line x1="63.699999999999996" y1="443.1" x2="66.3" y2="443.1" stroke="#1a1a1a" stroke-width="1.25"/>
<text transform="translate(63.68,449.40) scale(1.0030,1)" font-size="16" text-anchor="end">0.3</text>
<line x1="63.699999999999996" y1="404.1" x2="66.3" y2="404.1" stroke="#1a1a1a" stroke-width="1.25"/>
<text transform="translate(63.68,410.75) scale(1.0030,1)" font-size="16" text-anchor="end">0.4</text>
<line x1="63.699999999999996" y1="365.1" x2="66.3" y2="365.1" stroke="#1a1a1a" stroke-width="1.25"/>
<text transform="translate(63.68,372.10) scale(1.0030,1)" font-size="16" text-anchor="end">0.5</text>
<line x1="63.699999999999996" y1="326.1" x2="66.3" y2="326.1" stroke="#1a1a1a" stroke-width="1.25"/>
<text transform="translate(63.68,333.45) scale(1.0030,1)" font-size="16" text-anchor="end">0.6</text>
<line x1="66.30" y1="560.1" x2="66.30" y2="562.9" stroke="#1a1a1a" stroke-width="1.25"/>
<line x1="77.86" y1="560.1" x2="77.86" y2="562.9" stroke="#1a1a1a" stroke-width="1.25"/>
<line x1="89.43" y1="560.1" x2="89.43" y2="562.9" stroke="#1a1a1a" stroke-width="1.25"/>
<line x1="101.00" y1="560.1" x2="101.00" y2="562.9" stroke="#1a1a1a" stroke-width="1.25"/>
<line x1="112.56" y1="560.1" x2="112.56" y2="562.9" stroke="#1a1a1a" stroke-width="1.25"/>
<line x1="124.12" y1="560.1" x2="124.12" y2="562.9" stroke="#1a1a1a" stroke-width="1.25"/>
<line x1="135.69" y1="560.1" x2="135.69" y2="562.9" stroke="#1a1a1a" stroke-width="1.25"/>
<line x1="147.25" y1="560.1" x2="147.25" y2="562.9" stroke="#1a1a1a" stroke-width="1.25"/>
<line x1="158.82" y1="560.1" x2="158.82" y2="562.9" stroke="#1a1a1a" stroke-width="1.25"/>
<line x1="170.38" y1="560.1" x2="170.38" y2="562.9" stroke="#1a1a1a" stroke-width="1.25"/>
<line x1="181.95" y1="560.1" x2="181.95" y2="562.9" stroke="#1a1a1a" stroke-width="1.25"/>
<line x1="193.51" y1="560.1" x2="193.51" y2="562.9" stroke="#1a1a1a" stroke-width="1.25"/>
<line x1="205.08" y1="560.1" x2="205.08" y2="562.9" stroke="#1a1a1a" stroke-width="1.25"/>
<line x1="216.64" y1="560.1" x2="216.64" y2="562.9" stroke="#1a1a1a" stroke-width="1.25"/>
<line x1="228.21" y1="560.1" x2="228.21" y2="562.9" stroke="#1a1a1a" stroke-width="1.25"/>
<line x1="239.77" y1="560.1" x2="239.77" y2="562.9" stroke="#1a1a1a" stroke-width="1.25"/>
<line x1="251.34" y1="560.1" x2="251.34" y2="562.9" stroke="#1a1a1a" stroke-width="1.25"/>
<line x1="262.90" y1="560.1" x2="262.90" y2="562.9" stroke="#1a1a1a" stroke-width="1.25"/>
<line x1="274.47" y1="560.1" x2="274.47" y2="562.9" stroke="#1a1a1a" stroke-width="1.25"/>
<line x1="286.03" y1="560.1" x2="286.03" y2="562.9" stroke="#1a1a1a" stroke-width="1.25"/>
<line x1="297.60" y1="560.1" x2="297.60" y2="562.9" stroke="#1a1a1a" stroke-width="1.25"/>
<line x1="309.16" y1="560.1" x2="309.16" y2="562.9" stroke="#1a1a1a" stroke-width="1.25"/>
<line x1="320.73" y1="560.1" x2="320.73" y2="562.9" stroke="#1a1a1a" stroke-width="1.25"/>
<line x1="332.30" y1="560.1" x2="332.30" y2="562.9" stroke="#1a1a1a" stroke-width="1.25"/>
<line x1="343.86" y1="560.1" x2="343.86" y2="562.9" stroke="#1a1a1a" stroke-width="1.25"/>
<line x1="355.43" y1="560.1" x2="355.43" y2="562.9" stroke="#1a1a1a" stroke-width="1.25"/>
<line x1="366.99" y1="560.1" x2="366.99" y2="562.9" stroke="#1a1a1a" stroke-width="1.25"/>
<line x1="378.56" y1="560.1" x2="378.56" y2="562.9" stroke="#1a1a1a" stroke-width="1.25"/>
<line x1="390.12" y1="560.1" x2="390.12" y2="562.9" stroke="#1a1a1a" stroke-width="1.25"/>
<line x1="401.69" y1="560.1" x2="401.69" y2="562.9" stroke="#1a1a1a" stroke-width="1.25"/>
<line x1="413.25" y1="560.1" x2="413.25" y2="562.9" stroke="#1a1a1a" stroke-width="1.25"/>
<line x1="424.81" y1="560.1" x2="424.81" y2="562.9" stroke="#1a1a1a" stroke-width="1.25"/>
<line x1="436.38" y1="560.1" x2="436.38" y2="562.9" stroke="#1a1a1a" stroke-width="1.25"/>
<line x1="447.94" y1="560.1" x2="447.94" y2="562.9" stroke="#1a1a1a" stroke-width="1.25"/>
<line x1="459.51" y1="560.1" x2="459.51" y2="562.9" stroke="#1a1a1a" stroke-width="1.25"/>
<line x1="471.07" y1="560.1" x2="471.07" y2="562.9" stroke="#1a1a1a" stroke-width="1.25"/>
<line x1="482.64" y1="560.1" x2="482.64" y2="562.9" stroke="#1a1a1a" stroke-width="1.25"/>
<line x1="494.20" y1="560.1" x2="494.20" y2="562.9" stroke="#1a1a1a" stroke-width="1.25"/>
<line x1="505.77" y1="560.1" x2="505.77" y2="562.9" stroke="#1a1a1a" stroke-width="1.25"/>
<line x1="517.33" y1="560.1" x2="517.33" y2="562.9" stroke="#1a1a1a" stroke-width="1.25"/>
<line x1="528.90" y1="560.1" x2="528.90" y2="562.9" stroke="#1a1a1a" stroke-width="1.25"/>
<line x1="540.46" y1="560.1" x2="540.46" y2="562.9" stroke="#1a1a1a" stroke-width="1.25"/>
<line x1="552.03" y1="560.1" x2="552.03" y2="562.9" stroke="#1a1a1a" stroke-width="1.25"/>
<line x1="563.59" y1="560.1" x2="563.59" y2="562.9" stroke="#1a1a1a" stroke-width="1.25"/>
<line x1="575.16" y1="560.1" x2="575.16" y2="562.9" stroke="#1a1a1a" stroke-width="1.25"/>
<line x1="586.72" y1="560.1" x2="586.72" y2="562.9" stroke="#1a1a1a" stroke-width="1.25"/>
<line x1="598.29" y1="560.1" x2="598.29" y2="562.9" stroke="#1a1a1a" stroke-width="1.25"/>
<line x1="609.85" y1="560.1" x2="609.85" y2="562.9" stroke="#1a1a1a" stroke-width="1.25"/>
<line x1="621.42" y1="560.1" x2="621.42" y2="562.9" stroke="#1a1a1a" stroke-width="1.25"/>
<line x1="632.98" y1="560.1" x2="632.98" y2="562.9" stroke="#1a1a1a" stroke-width="1.25"/>
<line x1="644.55" y1="560.1" x2="644.55" y2="562.9" stroke="#1a1a1a" stroke-width="1.25"/>
<line x1="656.11" y1="560.1" x2="656.11" y2="562.9" stroke="#1a1a1a" stroke-width="1.25"/>
<text transform="translate(63.25,575.40) scale(1.0940,1)" font-size="14.4">27</text>
<text transform="translate(121.39,575.40) scale(1.0847,1)" font-size="14.4">32</text>
<text transform="translate(179.39,575.40) scale(1.0847,1)" font-size="14.4">37</text>
<text transform="translate(237.67,575.40) scale(1.0667,1)" font-size="14.4">42</text>
<text transform="translate(295.67,575.40) scale(1.0667,1)" font-size="14.4">47</text>
<text transform="translate(353.39,575.40) scale(1.0847,1)" font-size="14.4">52</text>
<text transform="translate(411.39,575.40) scale(1.0847,1)" font-size="14.4">57</text>
<text transform="translate(469.25,575.40) scale(1.0940,1)" font-size="14.4">62</text>
<text transform="translate(527.25,575.40) scale(1.0940,1)" font-size="14.4">67</text>
<text transform="translate(585.18,575.40) scale(1.0987,1)" font-size="14.4">72</text>
<text transform="translate(643.18,575.40) scale(1.0987,1)" font-size="14.4">77</text>
<text transform="translate(225.17,597.50) scale(1.0041,1)" font-size="15.5" font-weight="bold">Chromosomes per metaphase (No.)</text>
<text transform="translate(35.0,533.02) rotate(-90) scale(1.0168,1.10)" font-size="15.5" font-weight="bold">Metaphases (fraction)</text>
<rect x="500.3" y="401.4" width="16.5" height="15.5" rx="0.4" fill="#fff" stroke="#111" stroke-width="2.6"/>
<rect x="500.3" y="424.9" width="16.5" height="15.5" rx="0.4" fill="#808080" stroke="#111" stroke-width="2.6"/>
<text transform="translate(524.30,414.70) scale(0.9445,1)" font-size="15" font-weight="bold">WT</text>
<text transform="translate(524.60,437.90) scale(0.9522,1)" font-size="15.4" font-weight="bold" font-style="italic">Art</text>
<text transform="translate(546.89,432.40) scale(0.9426,1)" font-size="10" font-weight="bold" font-style="italic">Δ/Δ</text>
</g>
</svg></body></html>
